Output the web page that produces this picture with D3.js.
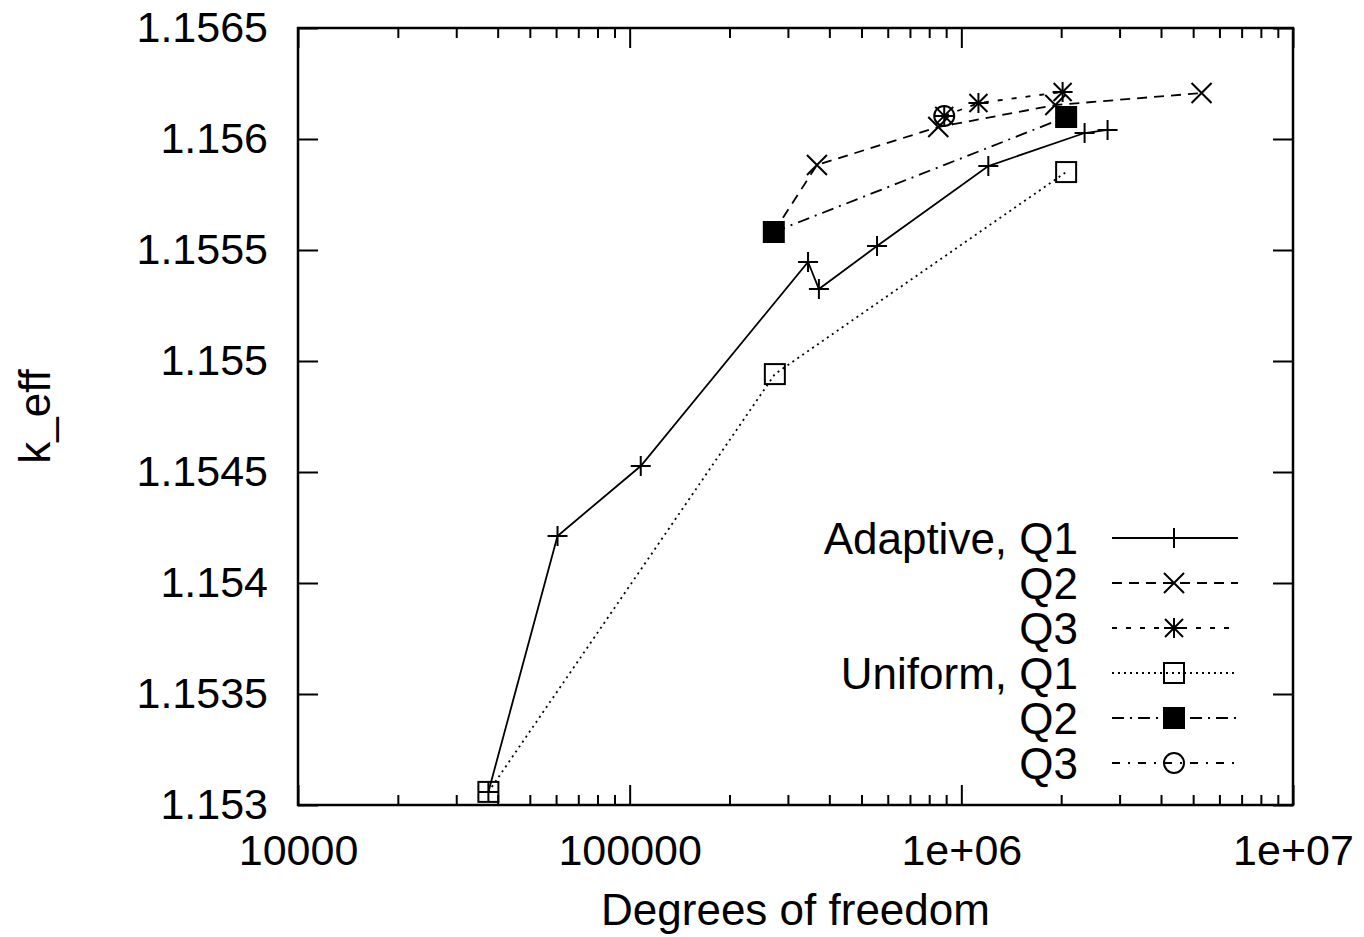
<!DOCTYPE html>
<html>
<head>
<meta charset="utf-8">
<script src="https://cdn.jsdelivr.net/npm/d3@7"></script>
<style>
  body { margin: 0; background: #fff; }
  svg text { font-family: "Liberation Sans", Arial, sans-serif; fill: #000; }
</style>
</head>
<body>
<svg id="chart" width="1364" height="937"></svg>
<script>
// Series values: [degrees of freedom, k_eff]
let adaptiveQ1 = [[37500, 1.153059], [60600, 1.154212], [108000, 1.154527], [345000, 1.155446],
                  [372000, 1.155324], [557000, 1.155518], [1206000, 1.155878], [2353000, 1.156027],
                  [2760000, 1.156041]];
let adaptiveQ2 = [[272000, 1.155581], [367000, 1.155883], [852000, 1.156054], [1920000, 1.156153],
                  [5300000, 1.156207]];
let adaptiveQ3 = [[888000, 1.156104], [1126000, 1.156162], [2020000, 1.156212]];
let uniformQ1 = [[37500, 1.153059], [274000, 1.154941], [2070000, 1.155851]];
let uniformQ2 = [[272000, 1.155581], [2070000, 1.156099]];
let uniformQ3 = [[888000, 1.156104]];

let seriesNames = ["Adaptive, Q1", "Q2", "Q3", "Uniform, Q1", "Q2", "Q3"];

// Tick labels
let xTickValues = [1e4, 1e5, 1e6, 1e7];
let xTickLabels = ["10000", "100000", "1e+06", "1e+07"];
let yTickValues = [1.153, 1.1535, 1.154, 1.1545, 1.155, 1.1555, 1.156, 1.1565];
let yTickLabels = ["1.153", "1.1535", "1.154", "1.1545", "1.155", "1.1555", "1.156", "1.1565"];

// Plot frame
let margin = { top: 28, left: 298, right: 71, bottom: 132 },
    width = 1364 - margin.left - margin.right,
    height = 937 - margin.top - margin.bottom;

let svg = d3.select("#chart");
let g = svg.append("g").attr("transform", "translate(" + margin.left + "," + margin.top + ")");

let x = d3.scaleLog().domain([1e4, 1e7]).range([0, width]);
let y = d3.scaleLinear().domain([1.153, 1.1565]).range([height, 0]);

// Minor x ticks (2..9 in every decade)
let minorTicks = [];
[1e4, 1e5, 1e6].forEach(function(d) {
    for (let k = 2; k < 10; k++) minorTicks.push(d * k);
});

let tickFont = "43px";
let labelFont = "44px";

function styleAxis(sel) {
    sel.select(".domain").remove();
    sel.selectAll("line").attr("stroke", "#000").attr("stroke-width", 2);
    sel.selectAll("text").style("font-size", tickFont).attr("fill", "#000");
}

// Bottom axis
g.append("g").attr("transform", "translate(0," + height + ")")
    .call(d3.axisBottom(x).tickValues(xTickValues).tickSize(-20).tickPadding(29)
        .tickFormat(function(d, i) { return xTickLabels[i]; }))
    .call(styleAxis);
g.append("g").attr("transform", "translate(0," + height + ")")
    .call(d3.axisBottom(x).tickValues(minorTicks).tickSize(-10).tickFormat(""))
    .call(styleAxis);
// Top mirror ticks
g.append("g")
    .call(d3.axisTop(x).tickValues(xTickValues).tickSize(-20).tickFormat(""))
    .call(styleAxis);
g.append("g")
    .call(d3.axisTop(x).tickValues(minorTicks).tickSize(-10).tickFormat(""))
    .call(styleAxis);

// Left axis
g.append("g")
    .call(d3.axisLeft(y).tickValues(yTickValues).tickSize(-20).tickPadding(30)
        .tickFormat(function(d, i) { return yTickLabels[i]; }))
    .call(styleAxis);
// Right mirror ticks
g.append("g").attr("transform", "translate(" + width + ",0)")
    .call(d3.axisRight(y).tickValues(yTickValues).tickSize(-20).tickFormat(""))
    .call(styleAxis);

// Frame
g.append("rect")
    .attr("width", width)
    .attr("height", height)
    .attr("fill", "none")
    .attr("stroke", "#000")
    .attr("stroke-width", 2.5);

// Axis titles
svg.append("text")
    .attr("x", margin.left + width / 2)
    .attr("y", 925)
    .attr("text-anchor", "middle")
    .style("font-size", labelFont)
    .text("Degrees of freedom");

svg.append("text")
    .attr("transform", "translate(50," + (margin.top + height / 2) + ") rotate(-90)")
    .attr("text-anchor", "middle")
    .style("font-size", labelFont)
    .text("k_eff");

// Marker drawing
function drawMarker(sel, type, cx, cy) {
    let s = 10;
    let m = sel.append("g").attr("transform", "translate(" + cx + "," + cy + ")")
        .attr("stroke", "#000").attr("stroke-width", 2);
    if (type === "plus" || type === "star") {
        m.append("path").attr("d", "M" + (-s) + ",0H" + s + "M0," + (-s) + "V" + s);
    }
    if (type === "cross" || type === "star") {
        let c = type === "star" ? 9 : 10;
        m.append("path").attr("d", "M" + (-c) + "," + (-c) + "L" + c + "," + c + "M" + (-c) + "," + c + "L" + c + "," + (-c));
    }
    if (type === "square") {
        m.append("rect").attr("x", -s).attr("y", -s).attr("width", 2 * s).attr("height", 2 * s)
            .attr("fill", "none");
    }
    if (type === "fsquare") {
        m.append("rect").attr("x", -s).attr("y", -s).attr("width", 2 * s).attr("height", 2 * s)
            .attr("fill", "#000");
    }
    if (type === "circle") {
        m.append("circle").attr("r", s).attr("fill", "none");
    }
}

let series = [
    { data: adaptiveQ1, marker: "plus", dash: null },
    { data: adaptiveQ2, marker: "cross", dash: "10,7" },
    { data: adaptiveQ3, marker: "star", dash: "5,9" },
    { data: uniformQ1, marker: "square", dash: "2,4" },
    { data: uniformQ2, marker: "fsquare", dash: "12,6,2,6" },
    { data: uniformQ3, marker: "circle", dash: "8,8,2,8" }
];

let line = d3.line()
    .x(function(d) { return x(d[0]); })
    .y(function(d) { return y(d[1]); });

series.forEach(function(s) {
    g.append("path")
        .datum(s.data)
        .attr("d", line)
        .attr("fill", "none")
        .attr("stroke", "#000")
        .attr("stroke-width", 1.8)
        .attr("stroke-dasharray", s.dash);
    s.data.forEach(function(d) {
        drawMarker(g, s.marker, x(d[0]), y(d[1]));
    });
});

// Legend
let legend = svg.append("g");
let legendY = d3.scalePoint().domain(d3.range(seriesNames.length)).range([538, 763]);
series.forEach(function(s, i) {
    let ly = legendY(i);
    legend.append("text")
        .attr("x", 1078)
        .attr("y", ly)
        .attr("dy", "0.36em")
        .attr("text-anchor", "end")
        .style("font-size", labelFont)
        .text(seriesNames[i]);
    legend.append("line")
        .attr("x1", 1112).attr("x2", 1238)
        .attr("y1", ly).attr("y2", ly)
        .attr("stroke", "#000")
        .attr("stroke-width", 1.8)
        .attr("stroke-dasharray", s.dash);
    drawMarker(legend, s.marker, 1174, ly);
});
</script>
</body>
</html>
